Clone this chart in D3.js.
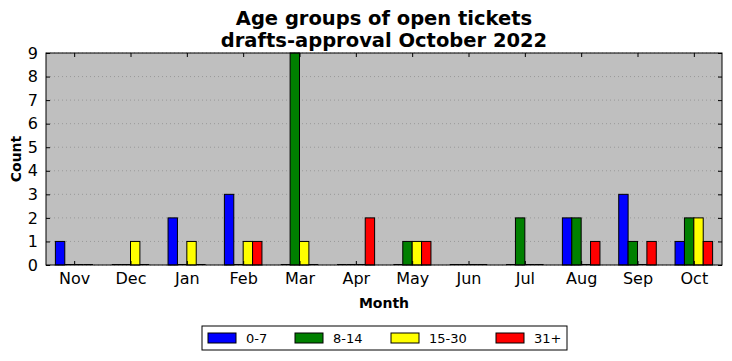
<!DOCTYPE html>
<html>
<head>
<meta charset="utf-8">
<script src="https://cdn.jsdelivr.net/npm/d3@7"></script>
<style>
  body { margin: 0; background: #fff; }
  text { font-family: "DejaVu Sans", sans-serif; }
</style>
</head>
<body>
<div id="chart"></div>
<script>
var months = ["Nov", "Dec", "Jan", "Feb", "Mar", "Apr", "May", "Jun", "Jul", "Aug", "Sep", "Oct"];
var groups = ["0-7", "8-14", "15-30", "31+"];
var colors = ["#0000ff", "#008000", "#ffff00", "#ff0000"];
var age0to7   = [1, 0, 2, 3, 0, 0, 0, 0, 0, 2, 3, 1];
var age8to14  = [0, 0, 0, 0, 9, 0, 1, 0, 2, 2, 1, 2];
var age15to30 = [0, 1, 1, 1, 1, 0, 1, 0, 0, 0, 0, 2];
var age31plus = [0, 0, 0, 1, 0, 2, 1, 0, 0, 1, 1, 1];
var yTicks = [0, 1, 2, 3, 4, 5, 6, 7, 8, 9];

var series = [age0to7, age8to14, age15to30, age31plus];

function createChart() {
    var svgWidth = 732, svgHeight = 361;
    var margin = { top: 53, right: 10, bottom: 96, left: 46 },
        width = svgWidth - margin.left - margin.right,
        height = svgHeight - margin.top - margin.bottom;

    var svg = d3.select("#chart").append("svg")
        .attr("width", svgWidth)
        .attr("height", svgHeight);

    var g = svg.append("g")
        .attr("transform", "translate(" + margin.left + "," + margin.top + ")");

    var x = d3.scaleLinear().domain([-0.5, months.length - 0.5]).range([0, width]);
    var y = d3.scaleLinear().domain([0, 9]).range([height, 0]);
    var bw = 1 / 6;

    g.append("rect")
        .attr("width", width).attr("height", height)
        .attr("fill", "#bfbfbf");

    // grid
    g.selectAll(".grid")
        .data(yTicks)
        .enter().append("line")
        .attr("x1", 0).attr("x2", width)
        .attr("y1", d => y(d)).attr("y2", d => y(d))
        .attr("stroke", "#808080")
        .attr("stroke-width", 0.6)
        .attr("stroke-dasharray", "1,3");

    // bars
    var flat = [];
    series.forEach(function (vals, k) {
        vals.forEach(function (v, i) { flat.push({ i: i, k: k, v: v }); });
    });

    g.selectAll(".bar")
        .data(flat.filter(d => d.v > 0))
        .enter().append("rect")
        .attr("class", "bar")
        .attr("x", d => x(d.i + (d.k - 2) * bw))
        .attr("y", d => y(d.v))
        .attr("width", x(bw) - x(0))
        .attr("height", d => y(0) - y(d.v))
        .attr("fill", d => colors[d.k])
        .attr("stroke", "#000")
        .attr("stroke-width", 1);

    g.selectAll(".zero")
        .data(flat.filter(d => d.v === 0))
        .enter().append("line")
        .attr("x1", d => x(d.i + (d.k - 2) * bw))
        .attr("x2", d => x(d.i + (d.k - 1) * bw))
        .attr("y1", y(0) - 0.5).attr("y2", y(0) - 0.5)
        .attr("stroke", "#000")
        .attr("stroke-width", 1);

    // axes
    var xAxis = g.append("g")
        .attr("transform", "translate(0," + height + ")")
        .call(d3.axisBottom(x).tickValues(d3.range(months.length))
            .tickFormat(i => months[i]).tickSizeInner(-4).tickSizeOuter(0).tickPadding(8));
    var xTop = g.append("g")
        .call(d3.axisTop(x).tickValues(d3.range(months.length))
            .tickFormat("").tickSizeInner(-4).tickSizeOuter(0));
    var yAxis = g.append("g")
        .call(d3.axisLeft(y).tickValues(yTicks).tickSizeInner(-4).tickSizeOuter(0).tickPadding(8));
    var yRight = g.append("g")
        .attr("transform", "translate(" + width + ",0)")
        .call(d3.axisRight(y).tickValues(yTicks).tickFormat("").tickSizeInner(-4).tickSizeOuter(0));

    [xAxis, xTop, yAxis, yRight].forEach(function (a) {
        a.select(".domain").remove();
        a.selectAll(".tick line").attr("stroke", "#000");
        a.selectAll(".tick text")
            .attr("fill", "#000")
            .style("font-family", "DejaVu Sans")
            .style("font-size", "16px");
    });

    g.append("rect")
        .attr("width", width).attr("height", height)
        .attr("fill", "none").attr("stroke", "#000").attr("stroke-width", 1);

    // titles
    svg.append("text")
        .attr("x", margin.left + width / 2).attr("y", 25)
        .attr("text-anchor", "middle")
        .style("font-size", "19.5px").style("font-weight", "bold")
        .text("Age groups of open tickets");
    svg.append("text")
        .attr("x", margin.left + width / 2).attr("y", 47)
        .attr("text-anchor", "middle")
        .style("font-size", "19.5px").style("font-weight", "bold")
        .text("drafts-approval October 2022");

    svg.append("text")
        .attr("x", margin.left + width / 2).attr("y", 308)
        .attr("text-anchor", "middle")
        .style("font-size", "14px").style("font-weight", "bold")
        .text("Month");
    svg.append("text")
        .attr("transform", "translate(21," + (margin.top + height / 2) + ") rotate(-90)")
        .attr("text-anchor", "middle")
        .style("font-size", "14px").style("font-weight", "bold")
        .text("Count");

    // legend
    var legend = svg.append("g").attr("transform", "translate(202,326)");
    legend.append("rect")
        .attr("width", 365).attr("height", 24)
        .attr("fill", "#fff").attr("stroke", "#000").attr("stroke-width", 1);
    var offs = [0, 87, 183, 288];
    var items = legend.selectAll(".item")
        .data(groups)
        .enter().append("g")
        .attr("transform", (d, i) => "translate(" + (6 + offs[i]) + ",7)");
    items.append("rect")
        .attr("width", 28).attr("height", 10)
        .attr("fill", (d, i) => colors[i])
        .attr("stroke", "#000").attr("stroke-width", 1);
    items.append("text")
        .attr("x", 38).attr("y", 10)
        .style("font-size", "13px")
        .text(d => d);
}

createChart();
</script>
</body>
</html>
